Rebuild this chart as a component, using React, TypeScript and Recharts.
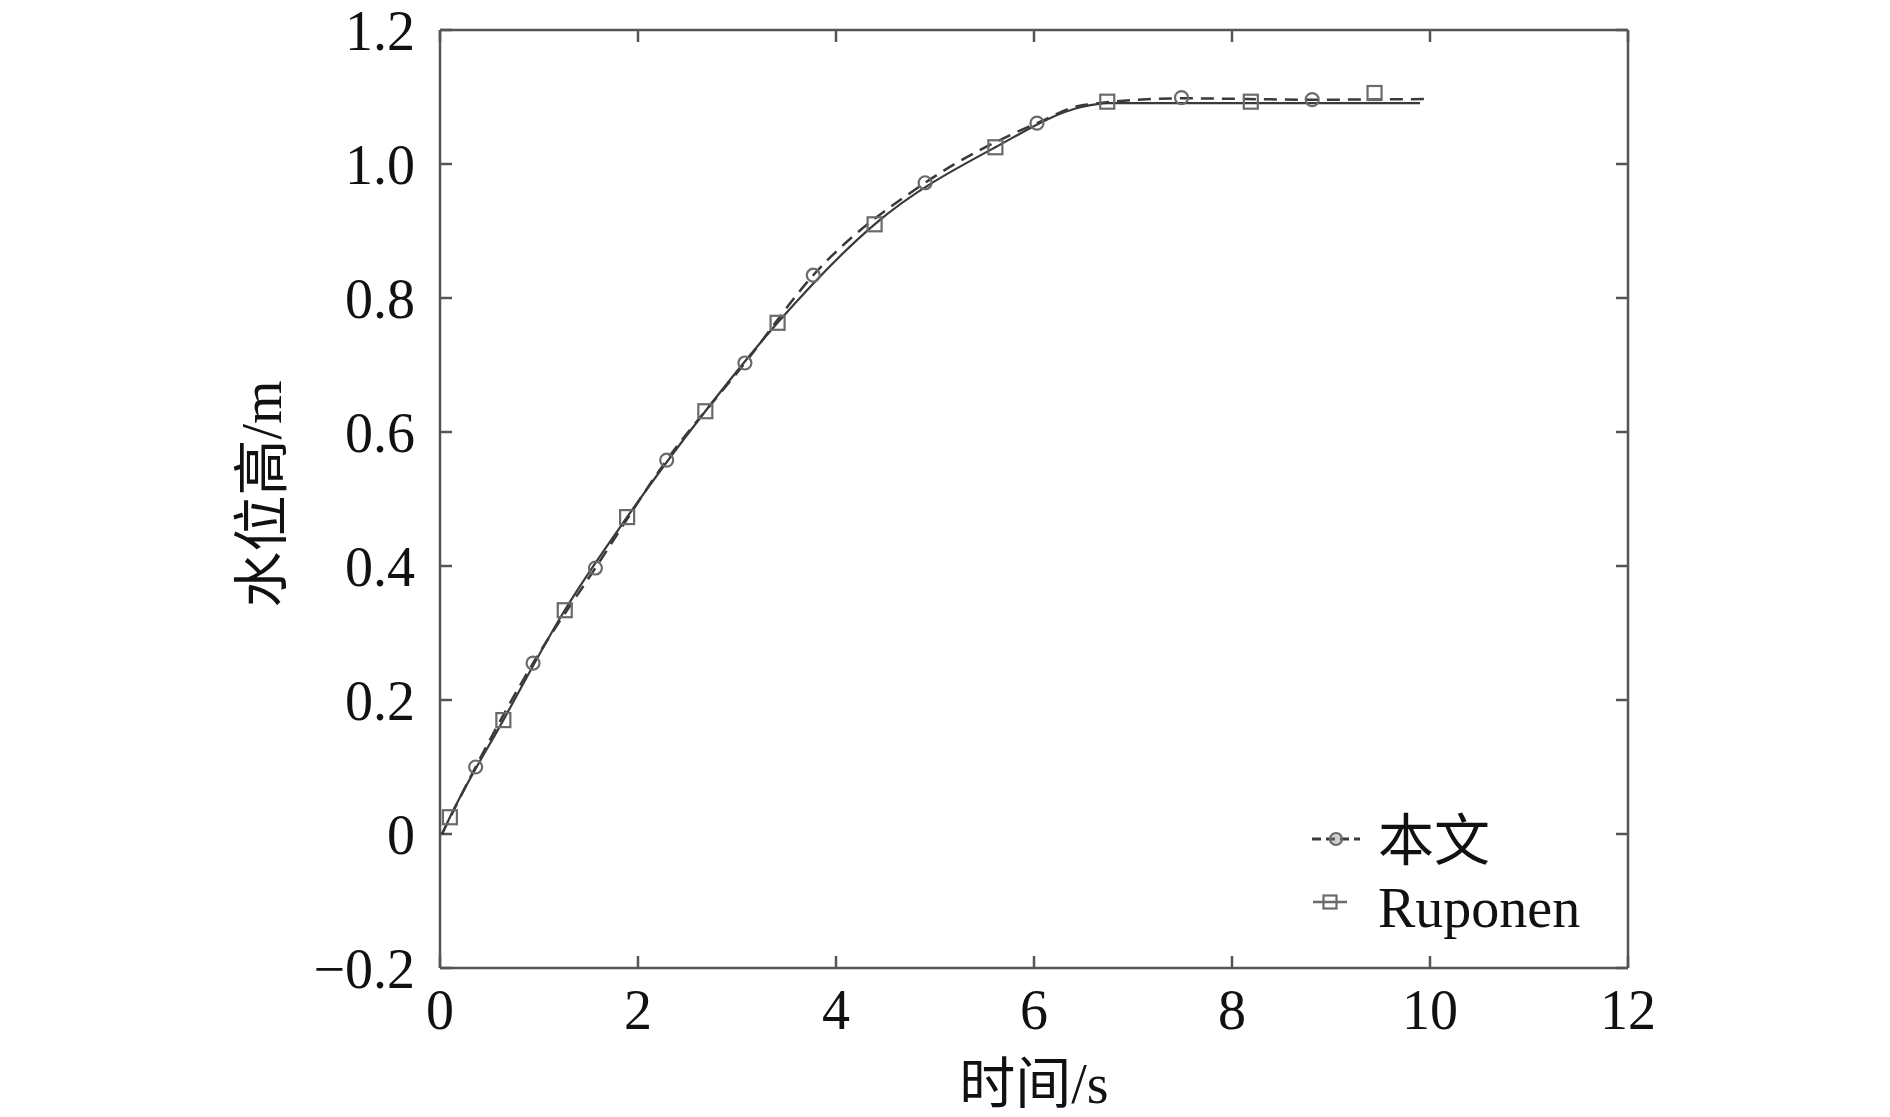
import React from 'react';
import { ComposedChart, Line, Scatter, XAxis, YAxis, Legend, Label, ReferenceLine } from 'recharts';

// ---- data ----
const xTicks = [0, 2, 4, 6, 8, 10, 12];
const yTicks = [-0.2, 0, 0.2, 0.4, 0.6, 0.8, 1.0, 1.2];

const seriesNames = ['本文', 'Ruponen'];
const xTitle = '时间/s';
const yTitle = '水位高/m';

// 本文 (dashed line, circle markers)
const benwenLineTime = [0.02, 0.36, 0.94, 1.57, 2.29, 3.08, 3.77, 4.9, 6.03, 6.5, 7.49, 8.81, 10.0];
const benwenLineHeight = [0.0, 0.1, 0.255, 0.397, 0.558, 0.703, 0.834, 0.972, 1.061, 1.088, 1.098, 1.096, 1.097];
const benwenMarkTime = [0.36, 0.94, 1.57, 2.29, 3.08, 3.77, 4.9, 6.03, 7.49, 8.81];
const benwenMarkHeight = [0.1, 0.255, 0.397, 0.558, 0.703, 0.834, 0.972, 1.061, 1.099, 1.096];

// Ruponen (solid line, square markers)
const ruponenLineTime = [0.02, 0.1, 0.64, 1.26, 1.89, 2.68, 3.41, 4.39, 5.61, 6.48, 6.74, 8.19, 9.44, 9.9];
const ruponenLineHeight = [0.0, 0.025, 0.17, 0.334, 0.473, 0.631, 0.763, 0.91, 1.025, 1.085, 1.091, 1.091, 1.091, 1.091];
const ruponenMarkTime = [0.1, 0.64, 1.26, 1.89, 2.68, 3.41, 4.39, 5.61, 6.74, 8.19, 9.44];
const ruponenMarkHeight = [0.025, 0.17, 0.334, 0.473, 0.631, 0.763, 0.91, 1.025, 1.093, 1.093, 1.106];

const zip = (t: number[], v: number[]) => t.map((x, i) => ({ t: x, v: v[i] }));

const benwenLine = zip(benwenLineTime, benwenLineHeight);
const benwenMarks = zip(benwenMarkTime, benwenMarkHeight);
const ruponenLine = zip(ruponenLineTime, ruponenLineHeight);
const ruponenMarks = zip(ruponenMarkTime, ruponenMarkHeight);

// ---- styles ----
const FONT = '"Liberation Serif", "Times New Roman", "Noto Sans CJK SC", serif';
const AXIS = '#555555';
const LINE = '#3a3a3a';
const MARK = '#6a6a6a';
const TEXT = '#111111';
const TICK_LEN = 12;
const AXIS_W = 2.5;

const fmtY = (v: number) => {
  if (Math.abs(v) < 1e-9) return '0';
  if (v < 0) return '\u2212' + Math.abs(v).toFixed(1);
  return v.toFixed(1);
};

const YTick = (props: any) => {
  const { x, y, payload } = props;
  return (
    <text x={x} y={y} dy={20} textAnchor="end" fontFamily={FONT} fontSize={56} fill={TEXT}>
      {fmtY(payload.value)}
    </text>
  );
};

const XTick = (props: any) => {
  const { x, y, payload } = props;
  return (
    <text x={x} y={y} dy={40} textAnchor="middle" fontFamily={FONT} fontSize={56} fill={TEXT}>
      {String(payload.value)}
    </text>
  );
};

// inward tick marks on top & bottom edges, drawn at the library-scaled x of each tick
const VTickMarks = (p: any) => {
  const top = Math.min(p.y1, p.y2);
  const bot = Math.max(p.y1, p.y2);
  return (
    <g>
      <line x1={p.x1} x2={p.x1} y1={bot} y2={bot - TICK_LEN} stroke={AXIS} strokeWidth={AXIS_W} />
      <line x1={p.x1} x2={p.x1} y1={top} y2={top + TICK_LEN} stroke={AXIS} strokeWidth={AXIS_W} />
    </g>
  );
};

// inward tick marks on left & right edges
const HTickMarks = (p: any) => {
  const left = Math.min(p.x1, p.x2);
  const right = Math.max(p.x1, p.x2);
  return (
    <g>
      <line y1={p.y1} y2={p.y1} x1={left} x2={left + TICK_LEN} stroke={AXIS} strokeWidth={AXIS_W} />
      <line y1={p.y1} y2={p.y1} x1={right} x2={right - TICK_LEN} stroke={AXIS} strokeWidth={AXIS_W} />
    </g>
  );
};

const CircleShape = (props: any) => {
  const { cx, cy } = props;
  if (cx == null || cy == null) return <g />;
  return <circle cx={cx} cy={cy} r={6.5} fill="none" stroke={MARK} strokeWidth={2.2} />;
};

const SquareShape = (props: any) => {
  const { cx, cy } = props;
  if (cx == null || cy == null) return <g />;
  return <rect x={cx - 7} y={cy - 7} width={14} height={14} fill="none" stroke={MARK} strokeWidth={2.2} />;
};

const LegendBox = () => (
  <svg width={340} height={150} style={{ position: 'absolute', left: 0, top: 0, overflow: 'visible' }}>
    <line x1={12} y1={39} x2={60} y2={39} stroke={LINE} strokeWidth={3} strokeDasharray="9 5" />
    <circle cx={36} cy={39} r={6} fill="#888" fillOpacity={0.4} stroke={MARK} strokeWidth={2.2} />
    <text x={78} y={60} fontFamily={FONT} fontSize={56} fill={TEXT}>{seriesNames[0]}</text>
    <line x1={13} y1={102} x2={47} y2={102} stroke={MARK} strokeWidth={2.5} />
    <rect x={23.5} y={95.5} width={13} height={13} fill="none" stroke={MARK} strokeWidth={2.2} />
    <text x={78} y={127} fontFamily={FONT} fontSize={56} fill={TEXT}>{seriesNames[1]}</text>
  </svg>
);

const YTitle = (props: any) => {
  const vb = props.viewBox || { x: 0, y: 30, width: 440, height: 938 };
  const cx = vb.x + 281;
  const cy = vb.y + vb.height / 2 - 5;
  return (
    <text x={cx} y={cy} textAnchor="middle" transform={`rotate(-90, ${cx}, ${cy})`} fontFamily={FONT} fontSize={56} fill={TEXT}>
      {yTitle}
    </text>
  );
};

const XTitle = (props: any) => {
  const vb = props.viewBox || { x: 440, y: 968, width: 1188, height: 149 };
  const cx = vb.x + vb.width / 2;
  const cy = vb.y + 135;
  return (
    <text x={cx} y={cy} textAnchor="middle" fontFamily={FONT} fontSize={56} fill={TEXT}>
      {xTitle}
    </text>
  );
};

export default function App() {
  return (
    <div style={{ position: 'absolute', left: 0, top: 0, width: 1890, height: 1117, background: '#fff' }}>
      <ComposedChart width={1890} height={1117} margin={{ top: 30, right: 262, bottom: 0, left: 0 }}>
        <XAxis
          dataKey="t"
          type="number"
          domain={[0, 12]}
          ticks={xTicks}
          allowDataOverflow
          height={149}
          axisLine={{ stroke: AXIS, strokeWidth: AXIS_W }}
          tickLine={false}
          tickSize={0}
          tickMargin={21}
          tick={<XTick />}
        >
          <Label content={<XTitle />} />
        </XAxis>
        <YAxis
          type="number"
          domain={[-0.2, 1.2]}
          ticks={yTicks}
          allowDataOverflow
          width={440}
          axisLine={{ stroke: AXIS, strokeWidth: AXIS_W }}
          tickLine={false}
          tickSize={0}
          tickMargin={25}
          tick={<YTick />}
        >
          <Label content={<YTitle />} />
        </YAxis>

        {/* frame: top and right edges */}
        <ReferenceLine y={1.2} stroke={AXIS} strokeWidth={AXIS_W} />
        <ReferenceLine x={12} stroke={AXIS} strokeWidth={AXIS_W} />

        {/* inward tick marks */}
        {xTicks.map((v) => (
          <ReferenceLine key={'xt' + v} x={v} shape={<VTickMarks />} />
        ))}
        {yTicks.map((v) => (
          <ReferenceLine key={'yt' + v} y={v} shape={<HTickMarks />} />
        ))}

        <Line
          data={ruponenLine}
          dataKey="v"
          type="monotone"
          stroke={LINE}
          strokeWidth={2.2}
          dot={false}
          activeDot={false}
          isAnimationActive={false}
          legendType="none"
        />
        <Line
          data={benwenLine}
          dataKey="v"
          type="monotone"
          stroke={LINE}
          strokeWidth={2.5}
          strokeDasharray="13 8"
          dot={false}
          activeDot={false}
          isAnimationActive={false}
          legendType="none"
        />
        <Scatter data={ruponenMarks} dataKey="v" shape={<SquareShape />} isAnimationActive={false} legendType="none" />
        <Scatter data={benwenMarks} dataKey="v" shape={<CircleShape />} isAnimationActive={false} legendType="none" />
        <Legend
          content={() => <LegendBox />}
          wrapperStyle={{ position: 'absolute', left: 1300, top: 800, width: 0, height: 0, overflow: 'visible' }}
        />
      </ComposedChart>
    </div>
  );
}
